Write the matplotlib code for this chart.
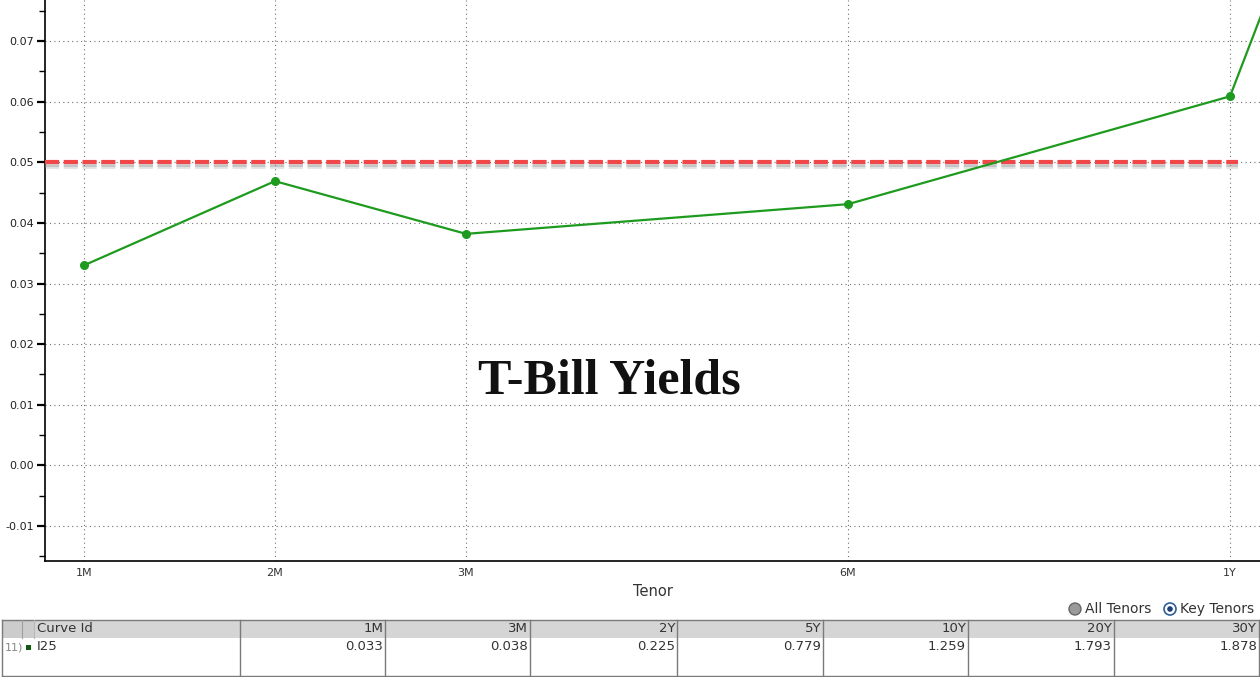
"""T-Bill yield curve, recreated from a Bloomberg-style screenshot."""

import matplotlib

matplotlib.use("Agg")
import matplotlib.pyplot as plt
import matplotlib.patheffects as pe
from matplotlib.patches import Circle, Rectangle
from matplotlib.ticker import FormatStrFormatter, MultipleLocator

# curve points (tenor, yield in %)
tenors = ["1M", "2M", "3M", "6M", "1Y", "2Y"]
tenor_axis = [0, 1, 2, 4, 6, 8]  # position on the Bloomberg tenor scale
yields = [0.033, 0.0469, 0.0382, 0.0431, 0.0609, 0.225]
cap_level = 0.05

# key tenors table under the chart
table_tenors = ["1M", "3M", "2Y", "5Y", "10Y", "20Y", "30Y"]
table_values = [0.033, 0.038, 0.225, 0.779, 1.259, 1.793, 1.878]
curve_id = "I25"

W, H = 1260, 677


def main() -> None:
    fig = plt.figure(figsize=(W / 100, H / 100), dpi=100)
    fig.patch.set_facecolor("white")

    ax = fig.add_axes([45 / W, 116 / H, 1 - 45 / W, 1 - 116 / H])
    ax.plot(
        tenor_axis,
        yields,
        color="#1e9b1e",
        linewidth=1.6,
        marker="o",
        markersize=5.5,
        zorder=4,
    )
    # limite de 5 bp com sombra suave por baixo
    ax.axhline(
        cap_level,
        xmin=0,
        xmax=0.982,
        color="#f04848",
        linewidth=3,
        dashes=(3.4, 1.1),
        zorder=3,
        path_effects=[
            pe.SimpleLineShadow(offset=(0, -3.2), shadow_color="#9a9a9a", alpha=0.25),
            pe.SimpleLineShadow(offset=(0, -2.2), shadow_color="#8a8a8a", alpha=0.35),
            pe.Normal(),
        ],
    )

    ax.set_xlim(-0.204, 6.157)
    ax.set_ylim(-0.0158, 0.0768)
    ax.set_xticks(tenor_axis[:5])
    ax.set_xticklabels(tenors[:5])
    ax.yaxis.set_major_locator(MultipleLocator(0.01))
    ax.yaxis.set_minor_locator(MultipleLocator(0.005))
    ax.yaxis.set_major_formatter(FormatStrFormatter("%.2f"))
    ax.tick_params(axis="x", length=0, pad=5, labelsize=8, labelcolor="#333333")
    ax.tick_params(axis="y", which="major", length=6, width=1.6, pad=2,
                   labelsize=8, labelcolor="#222222", direction="out")
    ax.tick_params(axis="y", which="minor", length=4, width=1, direction="out")
    ax.grid(True, which="major", color="#707070", linestyle=(0, (1, 3)), linewidth=0.8)
    for side in ["top", "right"]:
        ax.spines[side].set_visible(False)
    for side in ["left", "bottom"]:
        ax.spines[side].set_linewidth(1.2)
    ax.set_xlabel("Tenor", fontsize=10.5, color="#333333", labelpad=4)

    fig.text(
        609 / W,
        284 / H,
        "T-Bill Yields",
        fontsize=36,
        fontweight="bold",
        family="Liberation Serif",
        ha="center",
        va="baseline",
        color="#111111",
    )

    # table and radio buttons, drawn in pixel units
    tb = fig.add_axes([0, 0, 1, 77 / H])
    tb.set_xlim(0, W)
    tb.set_ylim(677, 600)
    tb.axis("off")

    edge = "#7a7a7a"
    tb.add_patch(Rectangle((2, 620), W - 2, 18, facecolor="#d5d5d5", edgecolor="none"))
    tb.add_patch(Rectangle((2, 620), 32, 18, facecolor="#cccccc", edgecolor="none"))
    tb.add_patch(Rectangle((2, 638), W - 2, 38, facecolor="white", edgecolor="none"))
    tb.plot([2, W], [620, 620], color=edge, lw=1)
    tb.plot([2, W], [676, 676], color=edge, lw=1)
    tb.plot([2, 2], [620, 676], color=edge, lw=1)
    tb.plot([22, 22], [620, 638], color="#a0a0a0", lw=0.8)
    tb.plot([34, 34], [620, 638], color="#b8b8b8", lw=0.8)

    col_edges = [240, 385, 530, 677, 823, 968, 1114, 1259]
    for x in col_edges:
        tb.plot([x, x], [620, 676], color=edge, lw=1)

    text_kw = dict(fontsize=9.5, color="#333333", va="center")
    tb.text(37, 629, "Curve Id", ha="left", **text_kw)
    for name, val, right in zip(table_tenors, table_values, col_edges[1:]):
        tb.text(right - 2, 629, name, ha="right", **text_kw)
        tb.text(right - 2, 647, f"{val:.3f}", ha="right", **text_kw)

    tb.text(5, 647, "11)", ha="left", fontsize=8, color="#888888", va="center")
    tb.add_patch(Rectangle((26, 645), 5, 5, facecolor="#0f5a0f", edgecolor="none"))
    tb.text(37, 647, curve_id, ha="left", **text_kw)

    tb.add_patch(Circle((1075, 609), 6, facecolor="#9a9a9a", edgecolor="#666666", lw=1))
    tb.text(1085, 609, "All Tenors", ha="left", fontsize=10, color="#333333", va="center")
    tb.add_patch(Circle((1170, 609), 6, facecolor="white", edgecolor="#2f5f9a", lw=1.2))
    tb.add_patch(Circle((1170, 609), 2.8, facecolor="#1f3f7a", edgecolor="none"))
    tb.text(1180, 609, "Key Tenors", ha="left", fontsize=10, color="#333333", va="center")

    fig.savefig("out.png", dpi=100)
    plt.close(fig)


if __name__ == "__main__":
    main()
